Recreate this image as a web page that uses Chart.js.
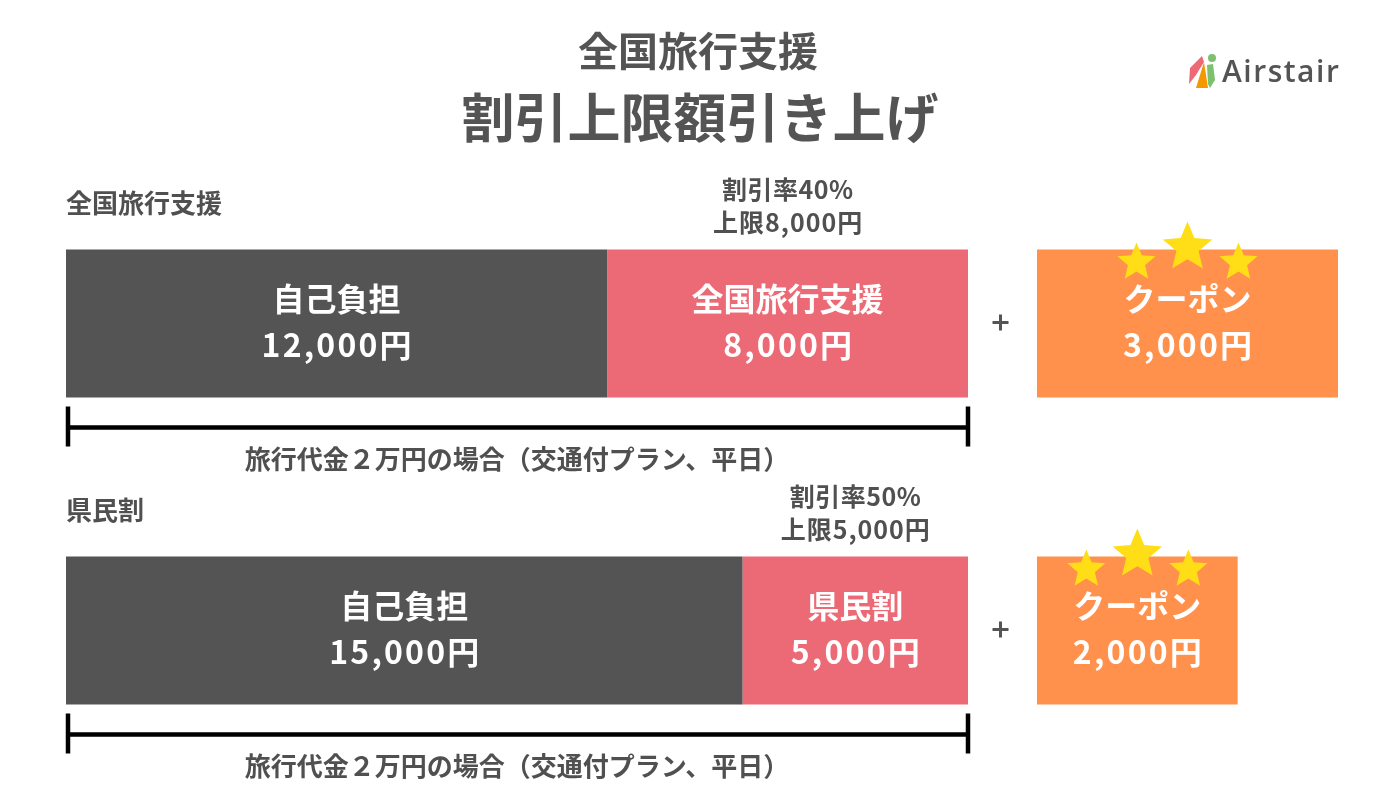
<!DOCTYPE html>
<html lang="ja">
<head>
<meta charset="utf-8">
<script src="https://cdn.jsdelivr.net/npm/chart.js@4.4.0/dist/chart.umd.min.js"></script>
<style>
  html, body { margin: 0; padding: 0; background: #ffffff; }
  #wrap { width: 1400px; height: 800px; }
</style>
</head>
<body>
<div id="wrap"><canvas id="c" width="1400" height="800"></canvas></div>
<script>
// ---------- data ----------
const titleLine1 = '全国旅行支援';
const titleLine2 = '割引上限額引き上げ';
const rowLabels = ['全国旅行支援', '県民割'];
const selfPay = [12000, 15000];
const subsidy = [8000, 5000];
const subsidyNames = ['全国旅行支援', '県民割'];
const discountRates = [40, 50];
const discountCaps = [8000, 5000];
const coupons = [3000, 2000];
const selfPayName = '自己負担';
const couponName = 'クーポン';
const noteText = '旅行代金２万円の場合（交通付プラン、平日）';
const brandName = 'Airstair';

// ---------- layout / style ----------
const FONT = "'Noto Sans CJK JP', 'Noto Sans', sans-serif";
const GRAY = '#545454';
const TEXT = '#505050';
const PINK = '#EC6A75';
const ORANGE = '#FF914D';
const STAR = '#FFDD17';
const PLOT_LEFT = 66, PLOT_RIGHT = 1338, MAIN_END = 968, COUPON_START = 1037;
const totals = selfPay.map((v, i) => v + subsidy[i]);
const totalMax = Math.max(...totals);
const xMax = totalMax * (PLOT_RIGHT - PLOT_LEFT) / (MAIN_END - PLOT_LEFT);
const couponMax = Math.max(...coupons);
const couponPx = (PLOT_RIGHT - COUPON_START) / couponMax;
const x2Min = -(COUPON_START - PLOT_LEFT) / couponPx;

const yen = v => v.toLocaleString('en-US') + '円';

function star(ctx, cx, cy, R) {
  const r = R * 0.45;
  ctx.beginPath();
  for (let k = 0; k < 10; k++) {
    const rad = k % 2 === 0 ? R : r;
    const a = -Math.PI / 2 + k * Math.PI / 5;
    const px = cx + rad * Math.cos(a), py = cy + rad * Math.sin(a);
    if (k === 0) ctx.moveTo(px, py); else ctx.lineTo(px, py);
  }
  ctx.closePath();
  ctx.fillStyle = STAR;
  ctx.fill();
}

function text(ctx, s, x, y, size, color, align, spacing) {
  ctx.font = `bold ${size}px ${FONT}`;
  ctx.fillStyle = color;
  ctx.letterSpacing = (spacing || 0) + 'px';
  ctx.textBaseline = 'middle';
  const al = align || 'center';
  if (al === 'center' && spacing) {
    // letterSpacing adds trailing space; compensate for centering
    ctx.textAlign = 'center';
    ctx.fillText(s, x + spacing / 2, y);
  } else {
    ctx.textAlign = al;
    ctx.fillText(s, x, y);
  }
  ctx.letterSpacing = '0px';
}

const decor = {
  id: 'decor',
  afterDatasetsDraw(chart) {
    const ctx = chart.ctx;
    const xs = chart.scales.x;
    const selfMeta = chart.getDatasetMeta(0);
    const subMeta = chart.getDatasetMeta(1);
    const cMeta = chart.getDatasetMeta(2);
    ctx.save();

    // titles
    text(ctx, titleLine1, 698, 51, 40, GRAY);
    text(ctx, titleLine2, 700, 118, 53, GRAY);

    // logo
    ctx.fillStyle = '#EC6A75';
    ctx.beginPath();
    ctx.moveTo(1189, 84); ctx.lineTo(1190, 68); ctx.lineTo(1202, 56); ctx.lineTo(1204, 62); ctx.lineTo(1196, 75); ctx.closePath(); ctx.fill();
    ctx.fillStyle = '#F39800';
    ctx.beginPath();
    ctx.moveTo(1196, 88); ctx.lineTo(1204, 62); ctx.lineTo(1208, 88); ctx.closePath(); ctx.fill();
    ctx.fillStyle = '#7DC06E';
    ctx.beginPath(); ctx.arc(1212, 58, 4, 0, Math.PI * 2); ctx.fill();
    ctx.beginPath();
    ctx.moveTo(1207, 65); ctx.lineTo(1213, 64); ctx.lineTo(1215, 80); ctx.lineTo(1210, 88); ctx.lineTo(1208, 84); ctx.closePath(); ctx.fill();
    ctx.font = `600 30px 'Open Sans', sans-serif`;
    ctx.letterSpacing = '1.5px';
    ctx.fillStyle = GRAY; ctx.textAlign = 'left'; ctx.textBaseline = 'middle';
    ctx.fillText(brandName, 1222, 73);
    ctx.letterSpacing = '0px';

    rowLabels.forEach((lab, i) => {
      const a = selfMeta.data[i], b = subMeta.data[i], c = cMeta.data[i];
      const top = a.y - a.height / 2, bottom = a.y + a.height / 2, cy = a.y;

      // row label
      text(ctx, lab, xs.getPixelForValue(0), top - 46, 26, TEXT, 'left');

      // discount info above subsidy segment
      const pinkMid = (b.base + b.x) / 2;
      text(ctx, `割引率${discountRates[i]}%`, pinkMid, top - 60, 25, TEXT, 'center', 0.5);
      text(ctx, `上限${discountCaps[i].toLocaleString('en-US')}円`, pinkMid, top - 27, 25, TEXT, 'center', 1);

      // segment labels
      const darkMid = (a.base + a.x) / 2;
      text(ctx, selfPayName, darkMid, cy - 25, 32, '#ffffff');
      text(ctx, yen(selfPay[i]), darkMid, cy + 21, 32, '#ffffff', 'center', 2.2);
      text(ctx, subsidyNames[i], pinkMid, cy - 25, 32, '#ffffff');
      text(ctx, yen(subsidy[i]), pinkMid, cy + 21, 32, '#ffffff', 'center', 2.2);

      // plus sign
      const plusX = (b.x + c.base) / 2 - 2;
      ctx.strokeStyle = GRAY; ctx.lineWidth = 3;
      ctx.beginPath();
      ctx.moveTo(plusX - 8, cy - 1); ctx.lineTo(plusX + 8, cy - 1);
      ctx.moveTo(plusX, cy - 9); ctx.lineTo(plusX, cy + 7);
      ctx.stroke();

      // coupon labels + stars
      const cMid = (c.base + c.x) / 2;
      const cTop = c.y - c.height / 2;
      text(ctx, couponName, cMid, cy - 25, 32, '#ffffff');
      text(ctx, yen(coupons[i]), cMid, cy + 21, 32, '#ffffff', 'center', 2.2);
      star(ctx, cMid, cTop - 2, 26);
      star(ctx, cMid - 51, cTop + 13, 20);
      star(ctx, cMid + 51, cTop + 13, 20);

      // bracket for total trip price
      const x0 = xs.getPixelForValue(0), x1 = xs.getPixelForValue(totals[i]);
      const by = bottom + 30;
      ctx.strokeStyle = '#000000'; ctx.lineWidth = 4.5; ctx.lineCap = 'butt';
      ctx.beginPath();
      ctx.moveTo(x0, by); ctx.lineTo(x1, by);
      ctx.moveTo(x0 + 2, by - 21); ctx.lineTo(x0 + 2, by + 19);
      ctx.moveTo(x1, by - 21); ctx.lineTo(x1, by + 19);
      ctx.stroke();
      text(ctx, noteText, (x0 + x1) / 2, bottom + 62, 26, TEXT);
    });
    ctx.restore();
  }
};

new Chart(document.getElementById('c'), {
  type: 'bar',
  data: {
    labels: rowLabels,
    datasets: [
      { label: selfPayName, data: selfPay, backgroundColor: GRAY, xAxisID: 'x', grouped: false },
      { label: '補助', data: subsidy, backgroundColor: PINK, xAxisID: 'x', grouped: false },
      { label: couponName, data: coupons, backgroundColor: ORANGE, xAxisID: 'x2', grouped: false }
    ]
  },
  options: {
    indexAxis: 'y',
    responsive: false,
    animation: false,
    categoryPercentage: 1,
    barPercentage: 148 / 307,
    layout: { padding: { left: PLOT_LEFT, right: 1400 - PLOT_RIGHT, top: 170, bottom: 16 } },
    plugins: { legend: { display: false }, tooltip: { enabled: false }, title: { display: false } },
    scales: {
      x: { display: false, stacked: true, min: 0, max: xMax, grid: { display: false } },
      x2: { display: false, stacked: false, min: x2Min, max: couponMax, grid: { display: false } },
      y: { display: false, stacked: true, grid: { display: false } }
    }
  },
  plugins: [decor]
});
</script>
</body>
</html>
